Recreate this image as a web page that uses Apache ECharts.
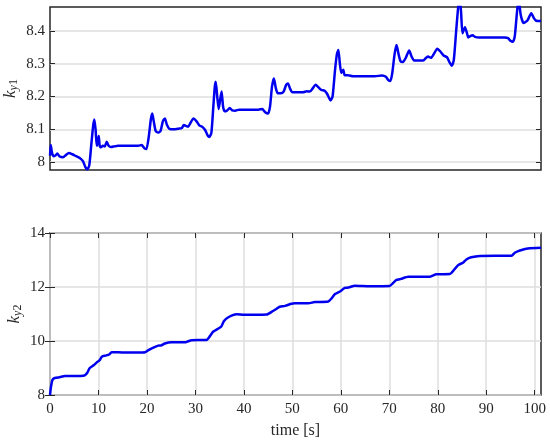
<!DOCTYPE html>
<html>
<head>
<meta charset="utf-8">
<script src="https://cdn.jsdelivr.net/npm/echarts@6/dist/echarts.min.js"></script>
<style>
html,body{margin:0;padding:0;background:#fff;}
#c{width:550px;height:441px;}
</style>
</head>
<body>
<div id="c"></div>
<script>
// ---- data ----
const t1 = [0,0.15,0.4,0.7,1.1,1.5,2.0,2.7,3.3,3.9,4.6,5.4,6.2,6.8,7.3,7.7,8.1,8.5,8.9,9.15,9.4,9.65,9.85,10.05,10.25,10.5,10.9,11.3,11.7,12.1,12.6,13.3,14,16,18.2,18.9,19.5,19.9,20.4,20.8,21.1,21.4,21.8,22.3,22.8,23.3,23.7,24.1,24.6,25.5,26.5,27.2,27.6,28.1,28.5,29.0,29.6,30.2,30.8,31.4,32.0,32.5,32.9,33.3,33.7,34.0,34.2,34.5,34.8,35.1,35.4,35.7,36.0,36.5,37.1,37.6,38.2,39,41,43,43.8,44.4,45.0,45.4,45.8,46.2,46.6,47.0,47.6,48.2,48.7,49.1,49.5,50.0,51,52.2,53.0,53.6,54.2,54.8,55.4,56.0,56.6,57.1,57.6,57.9,58.3,58.8,59.2,59.5,59.8,60.1,60.5,60.8,61.5,62.5,65,67,68.5,69.3,69.8,70.2,70.6,71.1,71.5,71.9,72.3,72.8,73.4,74.1,74.6,75.1,76,77,77.6,78.0,78.6,79.2,79.9,80.5,81.2,81.9,82.4,82.9,83.3,83.8,84.2,84.5,84.8,85.1,85.6,86.0,86.3,86.8,87.2,87.7,88.5,90,92,93.8,94.5,95.0,95.5,95.9,96.3,96.7,97.1,97.7,98.5,99.3,99.8,100.3,101.3];
const ky1 = [8.02,8.052,8.03,8.018,8.02,8.026,8.017,8.015,8.022,8.028,8.024,8.018,8.012,8.003,7.985,7.978,7.99,8.05,8.11,8.13,8.1,8.05,8.06,8.08,8.05,8.045,8.05,8.048,8.062,8.05,8.046,8.048,8.05,8.05,8.05,8.052,8.042,8.04,8.08,8.13,8.148,8.125,8.095,8.09,8.095,8.125,8.133,8.115,8.102,8.1,8.102,8.104,8.113,8.11,8.108,8.12,8.133,8.125,8.112,8.108,8.098,8.082,8.077,8.09,8.17,8.23,8.245,8.2,8.162,8.19,8.215,8.17,8.155,8.157,8.165,8.158,8.157,8.16,8.16,8.16,8.162,8.152,8.148,8.17,8.23,8.255,8.225,8.21,8.21,8.215,8.235,8.24,8.225,8.213,8.213,8.213,8.216,8.215,8.225,8.236,8.228,8.22,8.218,8.21,8.195,8.188,8.2,8.28,8.33,8.342,8.3,8.272,8.282,8.265,8.265,8.262,8.262,8.262,8.264,8.26,8.25,8.247,8.27,8.33,8.357,8.33,8.308,8.305,8.318,8.34,8.322,8.31,8.31,8.31,8.318,8.322,8.318,8.33,8.346,8.338,8.325,8.32,8.305,8.294,8.31,8.4,8.47,8.5,8.46,8.393,8.411,8.395,8.38,8.385,8.387,8.382,8.38,8.38,8.38,8.38,8.378,8.37,8.367,8.385,8.45,8.5,8.45,8.424,8.432,8.454,8.44,8.431,8.43];

const t2 = [0,0.2,0.5,1.0,2.0,3.1,5,6.9,7.6,8.2,9.0,9.6,10.2,10.7,11.5,12.2,12.7,14,16,18,19.6,20.3,21.0,22.3,23.0,23.7,25.1,27.8,28.5,29.2,32.3,33.0,33.7,35.0,35.4,35.9,36.8,38.5,40,42,44.7,46.0,46.8,47.4,48.5,49.8,50.5,53.3,54.6,57.4,58.1,58.8,60.0,60.8,61.6,62.9,66,70.1,70.8,71.5,72.4,73.9,78.4,79.7,82.5,83.2,84.2,85.2,85.9,86.9,88.7,95.2,95.9,96.6,97.5,98.6,101.3];
const ky2 = [8.0,8.3,8.56,8.63,8.66,8.70,8.70,8.71,8.8,9.0,9.1,9.2,9.28,9.42,9.46,9.5,9.58,9.58,9.57,9.57,9.58,9.66,9.73,9.83,9.84,9.91,9.95,9.95,9.99,10.03,10.04,10.18,10.35,10.49,10.55,10.74,10.88,10.99,10.97,10.97,10.98,11.11,11.2,11.27,11.3,11.38,11.40,11.40,11.44,11.46,11.58,11.74,11.85,11.97,11.98,12.05,12.03,12.04,12.15,12.26,12.3,12.38,12.38,12.47,12.48,12.6,12.81,12.9,13.02,13.1,13.15,13.16,13.27,13.33,13.38,13.43,13.45];

const y1Ticks = [8, 8.1, 8.2, 8.3, 8.4];
const xTicks = [0,10,20,30,40,50,60,70,80,90,100];

// ---- chart ----
const FONT = 'Liberation Serif';
const TXT = '#262626';
const GRIDC = '#dedede';
const pair = (a,b) => a.map((v,i)=>[v,b[i]]);

const chart = echarts.init(document.getElementById('c'), null, {renderer:'canvas'});
const tickStyle = {show:true, inside:true, length:5, lineStyle:{color:'#262626', width:1}};
const labelStyle = {color:TXT, fontFamily:FONT, fontSize:15};
const nameRich = n => ({rich:{
  k:{fontFamily:FONT, fontStyle:'italic', fontSize:17, color:TXT, verticalAlign:'top'},
  s:{fontFamily:FONT, fontStyle:'italic', fontSize:12, color:TXT, verticalAlign:'bottom', padding:[6,0,0,0]},
  n:{fontFamily:FONT, fontSize:12, color:TXT, verticalAlign:'bottom', padding:[6,0,0,0]}}});

chart.setOption({
  animation:false,
  backgroundColor:'#fff',
  grid:[
    {left:50, right:9, top:7, height:163, outerBoundsMode:'none', containLabel:false, show:true, borderColor:'#262626', borderWidth:1.5, backgroundColor:'transparent'},
    {left:50, right:9, top:233, height:162, outerBoundsMode:'none', containLabel:false, show:true, borderColor:'#262626', borderWidth:1.5, backgroundColor:'transparent'}
  ],
  xAxis:[
    {gridIndex:0, type:'value', min:0, max:101.3, axisLine:{show:false}, axisTick:{show:false}, axisLabel:{show:false}, splitLine:{show:false}},
    {gridIndex:1, type:'value', min:0, max:101.3, interval:10, axisLine:{show:false}, axisTick:Object.assign({customValues:xTicks}, tickStyle),
      axisLabel:Object.assign({margin:7, customValues:xTicks}, labelStyle), splitLine:{show:true, lineStyle:{color:GRIDC, width:1.5}},
      name:'time [s]', nameLocation:'middle', nameGap:28, nameTextStyle:{color:TXT, fontFamily:FONT, fontSize:16}},
    {gridIndex:1, type:'value', position:'top', min:0, max:101.3, interval:10, axisLine:{show:false}, axisTick:Object.assign({customValues:xTicks}, tickStyle), axisLabel:{show:false}, splitLine:{show:false}}
  ],
  yAxis:[
    {gridIndex:0, type:'value', min:7.976, max:8.473, axisLine:{show:false},
      axisTick:Object.assign({customValues:y1Ticks}, tickStyle),
      axisLabel:Object.assign({margin:5, customValues:y1Ticks, formatter:v=> (Math.abs(v-8)<1e-9?'8':v.toFixed(1))}, labelStyle),
      splitLine:{show:true, lineStyle:{color:GRIDC, width:1.5}},
      name:'{k|k}{s|y}{n|1}', nameLocation:'middle', nameGap:30, nameMoveOverlap:false, nameRotate:90, nameTextStyle:nameRich()},
    {gridIndex:0, type:'value', position:'right', min:7.976, max:8.473, axisLine:{show:false},
      axisTick:Object.assign({customValues:y1Ticks}, tickStyle), axisLabel:{show:false, customValues:y1Ticks}, splitLine:{show:false}},
    {gridIndex:1, type:'value', min:8, max:14, interval:2, axisLine:{show:false}, axisTick:tickStyle,
      axisLabel:Object.assign({margin:5}, labelStyle),
      splitLine:{show:true, lineStyle:{color:GRIDC, width:1.5}},
      name:'{k|k}{s|y}{n|2}', nameLocation:'middle', nameGap:26, nameMoveOverlap:false, nameRotate:90, nameTextStyle:nameRich()},
    {gridIndex:1, type:'value', position:'right', min:8, max:14, interval:2, axisLine:{show:false}, axisTick:tickStyle, axisLabel:{show:false}, splitLine:{show:false}}
  ],
  series:[
    {type:'line', xAxisIndex:0, yAxisIndex:0, data:pair(t1,ky1), showSymbol:false, clip:true, smooth:0.2,
      lineStyle:{color:'#0000ee', width:2.5}},
    {type:'line', xAxisIndex:1, yAxisIndex:2, data:pair(t2,ky2), showSymbol:false, clip:true, smooth:0.2,
      lineStyle:{color:'#0000ee', width:2.5}}
  ]
});
</script>
</body>
</html>
